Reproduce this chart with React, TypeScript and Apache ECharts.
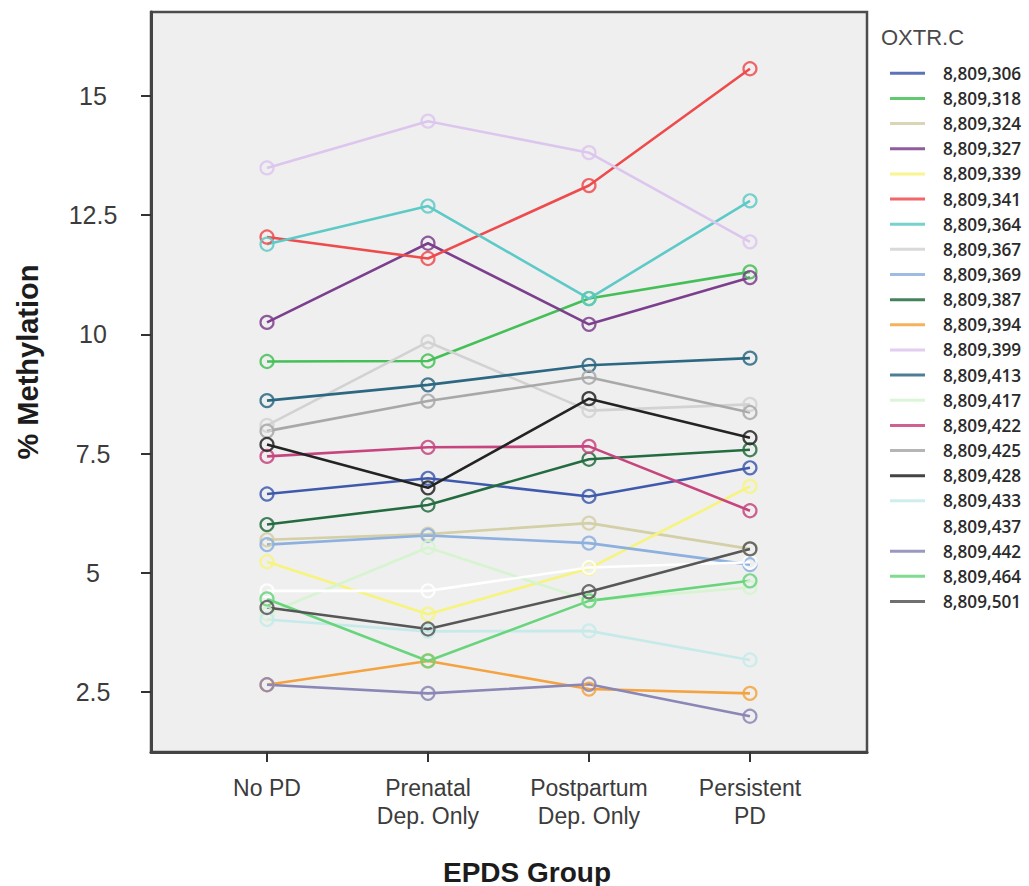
import React, { useEffect, useRef } from "react";
import * as echarts from "echarts";

// ---- data ----
const categories = ["No PD", "Prenatal\nDep. Only", "Postpartum\nDep. Only", "Persistent\nPD"];
const yTicks = [2.5, 5, 7.5, 10, 12.5, 15];

const cpgNames = [
  "8,809,306", "8,809,318", "8,809,324", "8,809,327", "8,809,339", "8,809,341",
  "8,809,364", "8,809,367", "8,809,369", "8,809,387", "8,809,394", "8,809,399",
  "8,809,413", "8,809,417", "8,809,422", "8,809,425", "8,809,428", "8,809,433",
  "8,809,437", "8,809,442", "8,809,464", "8,809,501",
];
const cpgColors = [
  "#3f5aad", "#45bf57", "#d3cfa6", "#7c3f8d", "#f6f47c", "#ee4b4d",
  "#5ecac7", "#d2d2d2", "#8db0de", "#246c40", "#f4a340", "#dcc6ee",
  "#2d6882", "#d5f4cf", "#c7457f", "#a8a8a8", "#232323", "#c6eaea",
  "#ffffff", "#8a86b5", "#68d57c", "#575757",
];

const v306 = [6.65, 6.98, 6.6, 7.2];
const v318 = [9.43, 9.44, 10.75, 11.31];
const v324 = [5.69, 5.81, 6.04, 5.5];
const v327 = [10.25, 11.91, 10.21, 11.19];
const v339 = [5.23, 4.13, 5.09, 6.81];
const v341 = [12.04, 11.59, 13.12, 15.57];
const v364 = [11.89, 12.69, 10.75, 12.8];
const v367 = [8.09, 9.84, 8.4, 8.53];
const v369 = [5.59, 5.78, 5.62, 5.17];
const v387 = [6.01, 6.42, 7.38, 7.58];
const v394 = [2.65, 3.15, 2.56, 2.47];
const v399 = [13.49, 14.47, 13.81, 11.94];
const v413 = [8.61, 8.94, 9.35, 9.5];
const v417 = [4.14, 5.53, 4.42, 4.69];
const v422 = [7.44, 7.63, 7.65, 6.3];
const v425 = [7.97, 8.6, 9.1, 8.36];
const v428 = [7.69, 6.78, 8.65, 7.83];
const v433 = [4.02, 3.77, 3.78, 3.17];
const v437 = [4.62, 4.62, 5.11, 5.22];
const v442 = [2.65, 2.47, 2.66, 1.99];
const v464 = [4.45, 3.15, 4.41, 4.83];
const v501 = [4.27, 3.82, 4.6, 5.5];

const cpgValues = [
  v306, v318, v324, v327, v339, v341, v364, v367, v369, v387, v394,
  v399, v413, v417, v422, v425, v428, v433, v437, v442, v464, v501,
];

const FONT = '"Liberation Sans", Arial, Helvetica, sans-serif';

export default function App() {
  const ref = useRef<HTMLDivElement>(null);

  useEffect(() => {
    if (!ref.current) return;
    const chart = echarts.init(ref.current, undefined, { renderer: "svg" });

    const series = cpgNames.map((name, i) => ({
      type: "line",
      name,
      data: cpgValues[i].map((v, k) => [k, v]),
      symbol: "circle",
      symbolSize: 13,
      lineStyle: { color: cpgColors[i], width: 2.6 },
      itemStyle: { color: "rgba(0,0,0,0)", borderColor: cpgColors[i], borderWidth: 2.2, opacity: 0.85 },
      emphasis: { disabled: true },
      silent: true,
    }));

    chart.setOption({
      animation: false,
      grid: {
        left: 151,
        right: 162,
        top: 12,
        bottom: 134,
        show: true,
        backgroundColor: "#efefef",
        borderColor: "#4d4d4d",
        borderWidth: 2.5,
      },
      xAxis: {
        type: "value",
        min: -0.7205,
        max: 3.727,
        splitLine: { show: false },
        axisLine: { show: true, onZero: false, lineStyle: { color: "#444", width: 3 } },
        axisTick: {
          show: true,
          customValues: [0, 1, 2, 3],
          length: 10,
          lineStyle: { color: "#333", width: 2 },
        },
        axisLabel: {
          customValues: [0, 1, 2, 3],
          formatter: (v: number) => categories[Math.round(v)] ?? "",
          fontSize: 23,
          lineHeight: 28,
          margin: 22,
          color: "#3c3c3c",
          fontFamily: FONT,
        },
      },
      yAxis: {
        type: "value",
        min: 1.24,
        max: 16.76,
        splitLine: { show: false },
        axisLine: { show: true, onZero: false, lineStyle: { color: "#444", width: 3 } },
        axisTick: {
          show: true,
          customValues: yTicks,
          length: 10,
          lineStyle: { color: "#333", width: 2 },
        },
        axisLabel: {
          customValues: yTicks,
          formatter: (v: number) => String(v),
          fontSize: 25,
          align: "center",
          margin: 58,
          color: "#3c3c3c",
          fontFamily: FONT,
        },
      },
      legend: {
        orient: "vertical",
        left: 890,
        top: 64.8,
        padding: 0,
        itemWidth: 35,
        itemHeight: 3,
        itemGap: 8.15,
        icon: "rect",
        selectedMode: false,
        itemStyle: { borderWidth: 0 },
        textStyle: {
          fontSize: 17.2,
          fontFamily: '"Open Sans", "Noto Sans", sans-serif',
          fontWeight: 600,
          color: "#2b2b2b",
          lineHeight: 17,
          padding: [0, 0, 0, 13],
        },
        data: cpgNames.map((n, i) => ({ name: n, itemStyle: { color: cpgColors[i] } })),
      },
      graphic: [
        {
          type: "text",
          x: 28,
          y: 362,
          rotation: Math.PI / 2,
          style: {
            text: "% Methylation",
            fontSize: 29,
            fontWeight: "bold",
            fontFamily: FONT,
            fill: "#1c1c1c",
            align: "center",
            verticalAlign: "middle",
          },
        },
        {
          type: "text",
          x: 527,
          y: 872,
          style: {
            text: "EPDS Group",
            fontSize: 28,
            fontWeight: "bold",
            fontFamily: FONT,
            fill: "#1c1c1c",
            align: "center",
            verticalAlign: "middle",
          },
        },
        {
          type: "text",
          x: 881,
          y: 37,
          style: {
            text: "OXTR.C",
            fontSize: 22,
            fontFamily: FONT,
            fill: "#4a4a4a",
            align: "left",
            verticalAlign: "middle",
          },
        },
      ],
      series,
    });

    return () => chart.dispose();
  }, []);

  return (
    <div
      ref={ref}
      style={{ position: "fixed", left: 0, top: 0, width: 1029, height: 886, background: "#fff" }}
    />
  );
}
